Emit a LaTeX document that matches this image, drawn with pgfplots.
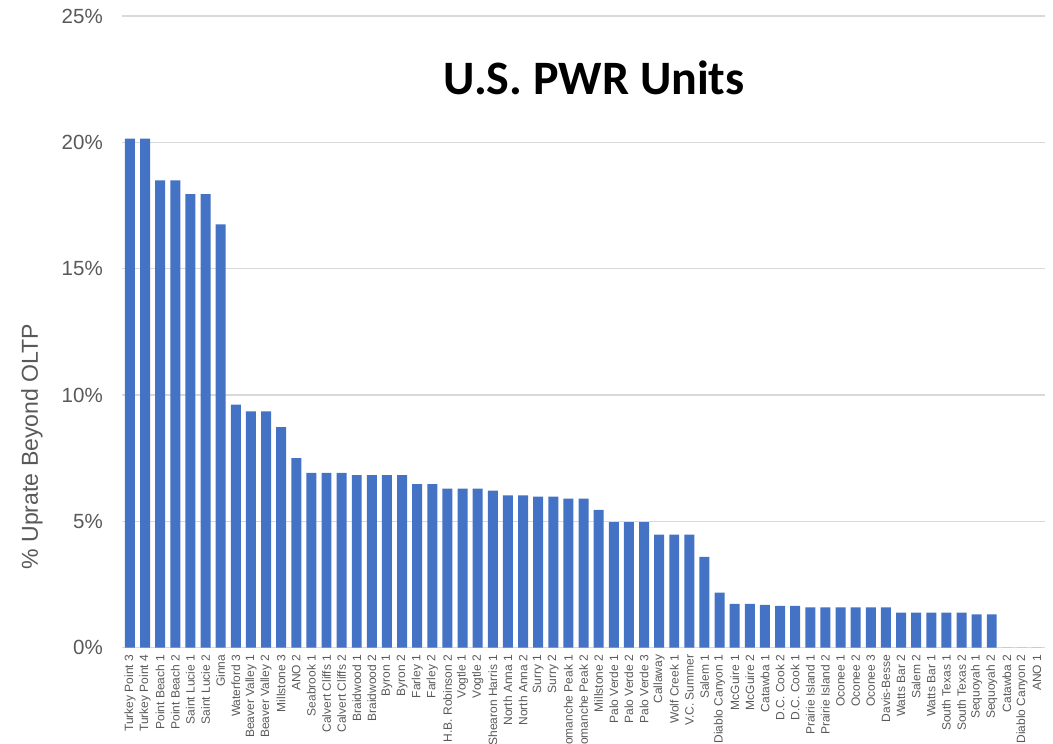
\documentclass[border=0pt]{standalone}
\usepackage{pgfplots}
\pgfplotsset{compat=1.18}
\usepackage{pgfplotstable}
\usepackage{fontspec}
\setmainfont{Liberation Sans}
\newfontfamily\titlefont{Carlito}
\definecolor{barblue}{HTML}{4472C4}
\definecolor{gridgray}{HTML}{D9D9D9}
\definecolor{txtgray}{HTML}{595959}
\pgfplotstableread{
x y
0 20.15
1 20.15
2 18.5
3 18.5
4 17.95
5 17.95
6 16.75
7 9.62
8 9.35
9 9.35
10 8.73
11 7.5
12 6.92
13 6.92
14 6.92
15 6.83
16 6.83
17 6.83
18 6.83
19 6.47
20 6.47
21 6.3
22 6.3
23 6.3
24 6.22
25 6.03
26 6.03
27 5.98
28 5.98
29 5.9
30 5.9
31 5.46
32 4.97
33 4.97
34 4.97
35 4.48
36 4.48
37 4.48
38 3.6
39 2.18
40 1.74
41 1.74
42 1.7
43 1.66
44 1.66
45 1.6
46 1.6
47 1.6
48 1.6
49 1.6
50 1.6
51 1.39
52 1.39
53 1.39
54 1.39
55 1.39
56 1.32
57 1.32
58 0
59 0
60 0
}\data
\begin{document}
\begin{tikzpicture}
\begin{axis}[
  scale only axis,
  width=691.7pt, height=473.8pt,
  xmin=-0.5, xmax=60.5,
  ymin=0, ymax=25,
  axis line style={draw=none},
  major tick length=0pt,
  ymajorgrids,
  grid style={gridgray, line width=1.1pt},
  ytick={0,5,10,15,20,25},
  yticklabels={0\%,5\%,10\%,15\%,20\%,25\%},
  yticklabel style={font=\fontsize{15.4}{18}\selectfont, text=txtgray, inner sep=0pt, xshift=-14.5pt},
  xtick={0,...,60},
  xticklabels={Turkey Point 3,Turkey Point 4,Point Beach 1,Point Beach 2,Saint Lucie 1,Saint Lucie 2,Ginna,Waterford 3,Beaver Valley 1,Beaver Valley 2,Millstone 3,ANO 2,Seabrook 1,Calvert Cliffs 1,Calvert Cliffs 2,Braidwood 1,Braidwood 2,Byron 1,Byron 2,Farley 1,Farley 2,H.B. Robinson 2,Vogtle 1,Vogtle 2,Shearon Harris 1,North Anna 1,North Anna 2,Surry 1,Surry 2,Comanche Peak 1,Comanche Peak 2,Millstone 2,Palo Verde 1,Palo Verde 2,Palo Verde 3,Callaway,Wolf Creek 1,V.C. Summer,Salem 1,Diablo Canyon 1,McGuire 1,McGuire 2,Catawba 1,D.C. Cook 2,D.C. Cook 1,Prairie Island 1,Prairie Island 2,Oconee 1,Oconee 2,Oconee 3,Davis-Besse,Watts Bar 2,Salem 2,Watts Bar 1,South Texas 1,South Texas 2,Sequoyah 1,Sequoyah 2,Catawba 2,Diablo Canyon 2,ANO 1},
  xticklabel style={font=\fontsize{9}{10}\selectfont, text=txtgray, rotate=90, anchor=east, inner sep=0pt, xshift=-5pt},
  ybar, bar width=0.66,
]
\addplot[fill=barblue, draw=none] table[x=x,y=y]{\data};
\end{axis}
\node[rotate=90, text=txtgray, font=\fontsize{17.3}{20}\selectfont] at (-67.8pt,150.9pt) {\% Uprate Beyond OLTP};
\node[font=\titlefont\bfseries\fontsize{36}{42}\selectfont] at (353.7pt,427.3pt) {U.S. PWR Units};
\pgfresetboundingbox
\path[use as bounding box] (-91.8pt,-71.5pt) rectangle (697.95pt,485.8pt);
\end{tikzpicture}
\end{document}
